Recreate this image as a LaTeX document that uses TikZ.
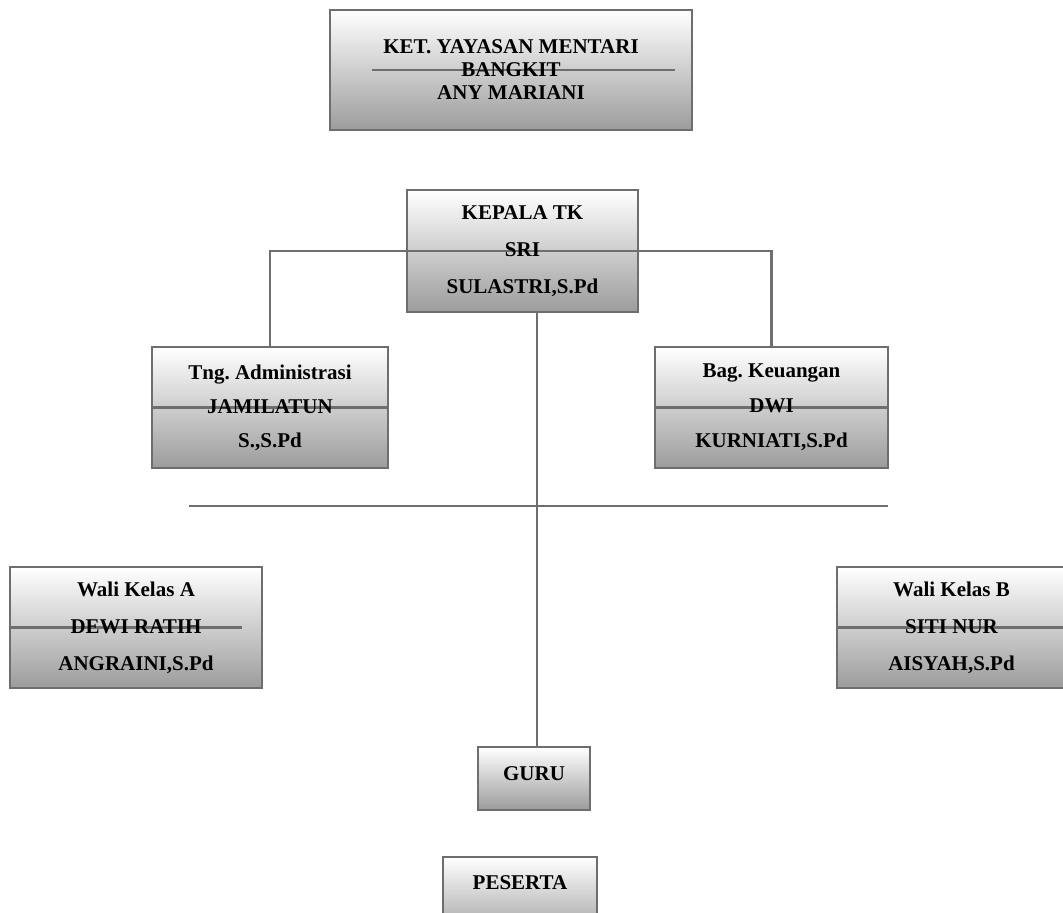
\documentclass[tikz,border=0pt]{standalone}
\usepackage{fontspec}
\setmainfont{Liberation Serif}
\frenchspacing
\definecolor{bord}{HTML}{6E6E6E}
\definecolor{shadebot}{HTML}{9C9C9C}
\tikzset{
 box/.style={draw=bord, line width=2.5pt, top color=white, bottom color=shadebot,
   inner sep=0pt, align=center, anchor=center,
   font=\fontsize{21}{37}\selectfont\bfseries},
 strike/.style 2 args={path picture={\draw[bord, line width=2.5pt]
   ([xshift=#1]path picture bounding box.west) -- ([xshift=-#2]path picture bounding box.east);}},
 link/.style={draw=bord, line width=2.5pt},
}
\begin{document}
\begin{tikzpicture}[x=1pt,y=-1pt]
\fill[white] (0,0) rectangle (1063,913);
\useasboundingbox (0,0) rectangle (1063,913);

\node[box, minimum width=362pt, minimum height=120pt, strike={42pt}{17pt},
  font=\fontsize{21}{23}\selectfont\bfseries] (ket) at (511,70)
  {KET. YAYASAN MENTARI\\BANGKIT\\ANY MARIANI};

\node[box, minimum width=231pt, minimum height=122pt, strike={0pt}{0pt}] (kep) at (522.5,251)
  {KEPALA TK\\SRI\\SULASTRI,S.Pd};

\node[box, minimum width=236pt, minimum height=121pt, strike={0pt}{0pt},
  font=\fontsize{21}{34}\selectfont\bfseries] (adm) at (270,407.5)
  {Tng. Administrasi\\JAMILATUN\\S.,S.Pd};

\node[box, minimum width=233pt, minimum height=121pt, strike={0pt}{0pt},
  font=\fontsize{21}{35}\selectfont\bfseries] (keu) at (771.5,407.5)
  {Bag. Keuangan\\DWI\\KURNIATI,S.Pd};

\node[box, minimum width=252pt, minimum height=121pt, strike={0pt}{20pt}] (wa) at (136,627.5)
  {Wali Kelas A\\DEWI RATIH\\ANGRAINI,S.Pd};

\node[box, minimum width=229pt, minimum height=121pt, strike={0pt}{0pt}] (wb) at (951.5,627.5)
  {Wali Kelas B\\SITI NUR\\AISYAH,S.Pd};

\node[box, minimum width=112pt, minimum height=63pt, text depth=0pt] (guru) at (534,778.5)
  {\raisebox{10pt}{GURU}};

\node[box, minimum width=154pt, minimum height=82pt, text depth=0pt] (pes) at (520,898)
  {\raisebox{30pt}{PESERTA}};

% connectors
\draw[link] (adm.north) |- (kep.west);
\draw[link] (keu.north) |- (kep.east);
\coordinate (vx) at (537,0);
\draw[link] (vx |- kep.south) -- (vx |- guru.north);
\coordinate (hl) at (189,506);
\coordinate (hr) at (888,506);
\draw[link] (hl) -- (hr);
\end{tikzpicture}
\end{document}
